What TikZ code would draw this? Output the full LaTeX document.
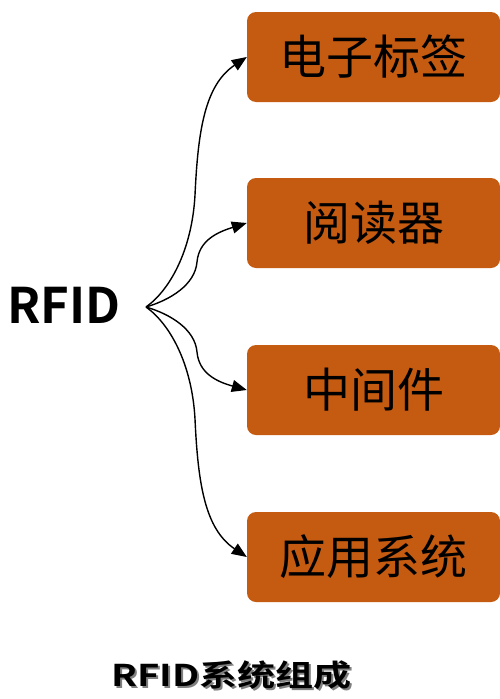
\documentclass[tikz,border=0pt]{standalone}
\usepackage{fontspec}
\newfontfamily\cjk{Noto Sans CJK SC}
\newfontfamily\cjkb{Noto Sans CJK SC Bold}
\usetikzlibrary{arrows.meta}
\definecolor{boxfill}{HTML}{C55A11}
\tikzset{
  partbox/.style={draw=none, fill=boxfill, rounded corners=9pt, minimum width=253pt, minimum height=90pt, inner sep=0pt, font=\cjk\fontsize{47}{50}\selectfont},
  link/.style={line width=1.4pt, -{Triangle[length=15pt,width=12pt]}},
  captxt/.style={font=\cjkb\fontsize{30}{34}\selectfont, inner sep=0pt, xscale=1.27}
}
\begin{document}
\begin{tikzpicture}[x=1pt,y=-1pt]
\useasboundingbox (0,0) rectangle (500,699);
\node[partbox] (b1) at (373.5,57) {电子标签};
\node[partbox] (b2) at (373.5,223) {阅读器};
\node[partbox] (b3) at (373.5,390) {中间件};
\node[partbox] (b4) at (373.5,557) {应用系统};
\node[font=\cjkb\fontsize{49}{52}\selectfont, inner sep=0pt, anchor=east] (rfid) at (121,305) {RFID};
\coordinate (s) at (146,307);
\draw[link] (s) .. controls (170,290) and (192,250) .. (195,195) .. controls (198,130) and (205,85) .. (b1.west);
\draw[link] (s) .. controls (170,300) and (195,285) .. (197,262) .. controls (199,240) and (218,232) .. (b2.west);
\draw[link] (s) .. controls (170,314) and (195,329) .. (197,352) .. controls (199,374) and (218,382) .. (b3.west);
\draw[link] (s) .. controls (170,324) and (192,364) .. (195,419) .. controls (198,484) and (205,529) .. (b4.west);
\node[captxt, text=black!50] (caps) at (233.5,677.5) {RFID系统组成};
\node[captxt] (cap) at (231.5,675.5) {RFID系统组成};
\end{tikzpicture}
\end{document}
